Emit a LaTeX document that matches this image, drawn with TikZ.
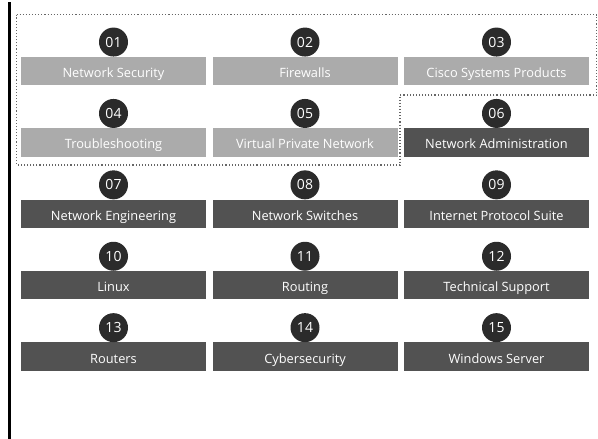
\documentclass[tikz,border=0pt]{standalone}
\usepackage{fontspec}
\setmainfont{Open Sans}
\definecolor{lightbox}{HTML}{ABABAB}
\definecolor{darkbox}{HTML}{525252}
\definecolor{badge}{HTML}{2B2B2B}
\begin{document}
\begin{tikzpicture}[x=1pt,y=-1pt,
  skill/.style={minimum width=185pt,minimum height=28.5pt,inner sep=0pt,text=white,
    text height=13pt,text depth=0pt,font=\fontsize{12.8}{13}\selectfont},
  done/.style={skill,fill=lightbox},
  todo/.style={skill,fill=darkbox},
  num/.style={circle,fill=badge,minimum size=29pt,inner sep=0pt,text=white,
    font=\fontsize{14}{14}\selectfont}]
\useasboundingbox (0,0) rectangle (598,439);
\fill[white] (0,0) rectangle (598,439);
% left rule
\draw[line width=2.6pt,black] (9.5,2) -- (9.5,439);
% dotted outline round the finished skills
\draw[dotted,line width=1.1pt,gray!80!black] (16.5,14.5) -- (596.5,14.5) -- (596.5,95) -- (400,95) -- (400,165) -- (16.5,165) -- cycle;
% skill boxes
\foreach \i/\lab/\st [count=\k from 0] in {
  01/Network Security/done, 02/Firewalls/done, 03/Cisco Systems Products/done,
  04/Troubleshooting/done, 05/Virtual Private Network/done, 06/Network Administration/todo,
  07/Network Engineering/todo, 08/Network Switches/todo, 09/Internet Protocol Suite/todo,
  10/Linux/todo, 11/Routing/todo, 12/Technical Support/todo,
  13/Routers/todo, 14/Cybersecurity/todo, 15/Windows Server/todo}{
  \pgfmathtruncatemacro{\c}{mod(\k,3)}
  \pgfmathtruncatemacro{\r}{int(\k/3)}
  \pgfmathsetmacro{\bx}{113.5+191.5*\c}
  \pgfmathsetmacro{\by}{71+71.4*\r}
  \node[\st] (b\i) at (\bx,\by) {\lab};
  \node[num] (n\i) at ([yshift=14.5pt]b\i.north) {\i};
}
\end{tikzpicture}
\end{document}
